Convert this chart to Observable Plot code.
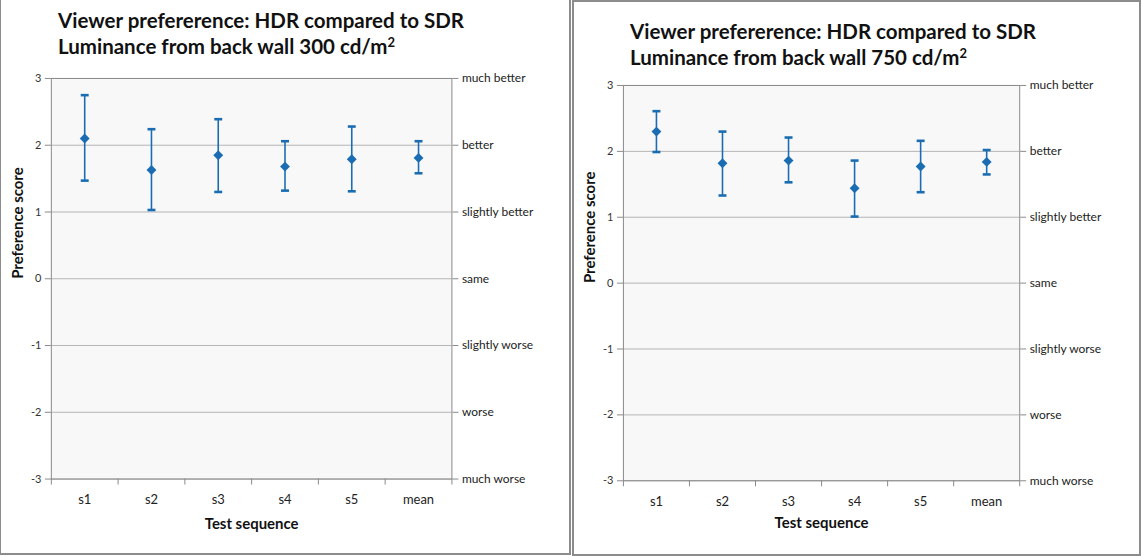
<!DOCTYPE html>
<html>
<head>
<meta charset="utf-8">
<script src="https://cdn.jsdelivr.net/npm/d3@7"></script>
<script src="https://cdn.jsdelivr.net/npm/@observablehq/plot@0.6"></script>
<style>
  html, body { margin: 0; padding: 0; background: #fff; }
  body { width: 1141px; height: 556px; position: relative; overflow: hidden; font-family: Lato, "Open Sans", sans-serif; }
  .panel { position: absolute; border: 2px solid #8c8c8c; box-sizing: border-box; background: #fff; }
  .title { position: absolute; font-weight: bold; font-size: 20.5px; line-height: 26px; color: #111; white-space: nowrap; }
  .title sup { font-size: 13px; vertical-align: 7px; line-height: 0; }
  .chart { position: absolute; left: 0; }
</style>
</head>
<body>
<div id="p1" class="panel" style="left:-1px; top:-3px; width:572px; height:558px;">
  <div class="title" style="left:57px; top:8px;">Viewer prefererence: HDR compared to SDR<br>Luminance from back wall 300 cd/m<sup>2</sup></div>
  <div class="chart" id="c1" style="top:69px;"></div>
</div>
<div id="p2" class="panel" style="left:572px; top:0px; width:569px; height:556px;">
  <div class="title" style="left:56px; top:16px;">Viewer prefererence: HDR compared to SDR<br>Luminance from back wall 750 cd/m<sup>2</sup></div>
  <div class="chart" id="c2" style="top:71px;"></div>
</div>
<script>
const categories = ["s1", "s2", "s3", "s4", "s5", "mean"];
const mean300  = [2.10, 1.63, 1.85, 1.68, 1.79, 1.81];
const upper300 = [2.75, 2.24, 2.39, 2.06, 2.28, 2.06];
const lower300 = [1.47, 1.03, 1.30, 1.32, 1.31, 1.58];
const mean750  = [2.30, 1.82, 1.86, 1.44, 1.77, 1.84];
const upper750 = [2.61, 2.30, 2.21, 1.86, 2.16, 2.02];
const lower750 = [1.99, 1.33, 1.53, 1.01, 1.38, 1.65];
const scoreTicks  = [-3, -2, -1, 0, 1, 2, 3];
const scoreLabels = ["much worse", "worse", "slightly worse", "same", "slightly better", "better", "much better"];
const xAxisTitle = "Test sequence";
const yAxisTitle = "Preference score";

const blue = "#1b6db3";
const capSymbol = {
  draw(ctx, size) {
    const w = Math.sqrt(size) / 2;
    ctx.moveTo(-w, 0);
    ctx.lineTo(w, 0);
  }
};
const squareDiamond = {
  draw(ctx, size) {
    const w = Math.sqrt(size) / 2;
    ctx.moveTo(0, -w);
    ctx.lineTo(w, 0);
    ctx.lineTo(0, w);
    ctx.lineTo(-w, 0);
    ctx.closePath();
  }
};

function makeChart({means, uppers, lowers, width, height, marginTop, marginBottom, marginLeft, marginRight, titleDy}) {
  const rows = categories.map((c, i) => ({cat: c, i, m: means[i], hi: uppers[i], lo: lowers[i]}));
  const bounds = categories.map((_, i) => i).concat([categories.length]);
  const centers = categories.map((_, i) => i + 0.5);
  return Plot.plot({
    width, height, marginTop, marginBottom, marginLeft, marginRight,
    x: {domain: [0, categories.length], axis: null},
    y: {domain: [scoreTicks[0], scoreTicks[scoreTicks.length - 1]], axis: null},
    style: {fontFamily: "Lato, 'Open Sans', sans-serif", background: "transparent", color: "#333"},
    marks: [
      Plot.frame({fill: "#f8f8f8", stroke: null}),
      Plot.ruleY(scoreTicks, {stroke: "#b5b5b5", strokeWidth: 1}),
      Plot.frame({stroke: "#8a8a8a", strokeWidth: 1}),
      Plot.axisY({ticks: scoreTicks, tickFormat: d => String(d), tickSize: 6, tickPadding: 4, fontSize: 11, stroke: "#8a8a8a", fill: "#333", label: null}),
      Plot.axisY({anchor: "right", ticks: scoreTicks, tickFormat: d => scoreLabels[d - scoreTicks[0]], tickSize: 6, tickPadding: 4, fontSize: 12, stroke: "#8a8a8a", fill: "#222", label: null}),
      Plot.axisX({ticks: bounds, tickFormat: () => "", tickSize: 6, stroke: "#8a8a8a", label: null}),
      Plot.axisX({ticks: centers, tickFormat: d => categories[Math.floor(d)], tickSize: 0, tickPadding: 16, fontSize: 13, fill: "#222", label: null}),
      Plot.ruleX(rows, {x: d => d.i + 0.5, y1: "lo", y2: "hi", stroke: blue, strokeWidth: 1.6}),
      Plot.dot(rows, {x: d => d.i + 0.5, y: "hi", symbol: capSymbol, r: 4.5, stroke: blue, strokeWidth: 2.6}),
      Plot.dot(rows, {x: d => d.i + 0.5, y: "lo", symbol: capSymbol, r: 4.5, stroke: blue, strokeWidth: 2.6}),
      Plot.dot(rows, {x: d => d.i + 0.5, y: "m", symbol: squareDiamond, r: 5.6, fill: blue, stroke: null}),
      Plot.text([xAxisTitle], {frameAnchor: "bottom", dy: titleDy, lineAnchor: "middle", fontSize: 15, fontWeight: "bold", fill: "#111"}),
      Plot.text([yAxisTitle], {frameAnchor: "left", dx: -33, rotate: -90, fontSize: 15, fontWeight: "bold", fill: "#111"})
    ]
  });
}

document.getElementById("c1").appendChild(makeChart({
  means: mean300, uppers: upper300, lowers: lower300,
  width: 570, height: 467, marginTop: 10, marginBottom: 55, marginLeft: 50, marginRight: 118, titleDy: 45
}));
document.getElementById("c2").appendChild(makeChart({
  means: mean750, uppers: upper750, lowers: lower750,
  width: 566, height: 463, marginTop: 12, marginBottom: 55, marginLeft: 49, marginRight: 120, titleDy: 43
}));
</script>
</body>
</html>
